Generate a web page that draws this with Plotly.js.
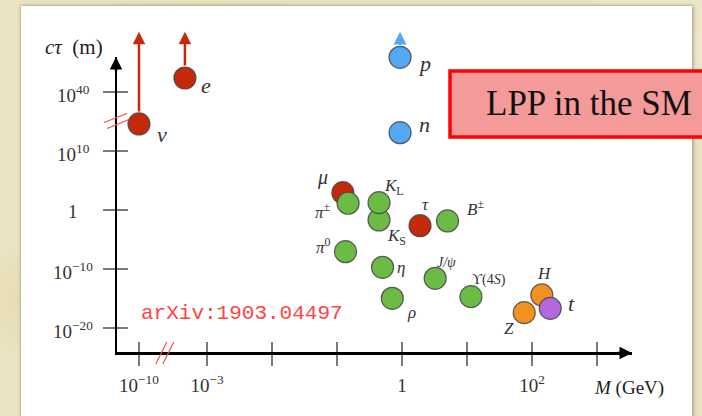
<!DOCTYPE html>
<html>
<head>
<meta charset="utf-8">
<script src="https://cdn.plot.ly/plotly-3.0.1.min.js"></script>
<style>
  html, body { margin: 0; padding: 0; width: 702px; height: 416px; overflow: hidden; }
  body {
    background:
      radial-gradient(ellipse 120px 90px at 40px 300px, rgba(225,214,160,0.55), rgba(225,214,160,0) 70%),
      radial-gradient(ellipse 160px 120px at 650px 60px, rgba(248,242,222,0.6), rgba(248,242,222,0) 70%),
      radial-gradient(ellipse 200px 140px at 200px 20px, rgba(230,220,180,0.5), rgba(230,220,180,0) 70%),
      #ebe3c4;
  }
  #panel {
    position: absolute; left: 21px; top: 6px; width: 671px; height: 420px;
    background: #ffffff;
    box-shadow: 0 0 3px rgba(90,80,50,0.45), 2px 0 4px rgba(90,80,50,0.25);
  }
  #chart { position: absolute; left: 0; top: 0; width: 702px; height: 416px; }
</style>
</head>
<body>
<div id="panel"></div>
<div id="chart"></div>
<script>
// Standard Model particles: log10 of mass (GeV) and of decay length c*tau (m)
const particles = ['nu', 'e', 'p', 'n', 'mu', 'pi+-', 'KS', 'KL', 'tau', 'B+-', 'pi0', 'eta', 'J/psi', 'rho', 'Upsilon4S', 'Z', 'H', 't'];
const labels = ['<i>ν</i>', '<i>e</i>', '<i>p</i>', '<i>n</i>', '<i>μ</i>', '<i>π</i><sup>±</sup>', '<i>K</i><sub>S</sub>', '<i>K</i><sub>L</sub>',
                '<i>τ</i>', '<i>B</i><sup>±</sup>', '<i>π</i><sup>0</sup>', '<i>η</i>', '<i>J/ψ</i>', '<i>ρ</i>', 'ϒ(4<i>S</i>)', '<i>Z</i>', '<i>H</i>', '<i>t</i>'];
const massLog = [-10, -3.34, -0.03, -0.03, -0.91, -0.83, -0.354, -0.354, 0.277, 0.70, -0.87, -0.30, 0.51, -0.15, 1.06, 1.88, 2.15, 2.28];
const ctauLog = [14.58, 51.85, 69.4, 13.1, 2.93, 1.14, -1.69, 1.24, -2.66, -1.86, -7.07, -9.71, -11.58, -14.97, -14.69, -17.4, -14.4, -16.67];
const kind = ['lepton', 'lepton', 'baryon', 'baryon', 'lepton', 'meson', 'meson', 'meson', 'lepton', 'meson', 'meson', 'meson', 'meson', 'meson', 'meson', 'boson', 'boson', 'top'];
// only a lower bound on the lifetime is known
const lowerBound = ['nu', 'e', 'p'];

// axis ticks (log10 values) and their labels
const xTickLog = [-10, -3, -2, -1, 0, 1, 2, 3];
const xTickText = ['10<sup>−10</sup>', '10<sup>−3</sup>', '', '', '1', '', '10<sup>2</sup>', ''];
const yTickLog = [-20, -10, 0, 10, 40];
const yTickText = ['10<sup>−20</sup>', '10<sup>−10</sup>', '1', '10<sup>10</sup>', '10<sup>40</sup>'];

// ---- styling ----
const colors = { lepton: '#c42a0a', baryon: '#52a9f4', meson: '#6cbb45', boson: '#f2911e', top: '#b269e0' };
const SERIF = 'Liberation Serif, Times New Roman, serif';
const labelStyle = {
  nu: [23, -11, 22], e: [21, -7, 22], p: [24, -6, 22], n: [24, 8, 22],
  mu: [-20, 15, 20], 'pi+-': [-25, -8, 17], KS: [17, -17, 17], KL: [15, 16, 17],
  tau: [5, 21, 17], 'B+-': [28, 13, 17], pi0: [-22, 6, 17], eta: [18, 0, 17],
  'J/psi': [11, 16, 14], rho: [19, -14, 17], Upsilon4S: [18, 17, 14],
  Z: [-15, -16, 17], H: [3, 21, 17], t: [21, 5, 22]
};

// broken axes: compressed beyond the break marks
const X_BREAK = -3.65, X_K = 0.0625;
const Y_BREAK = 15, Y_K = 0.2;
const xPos = l => (l >= X_BREAK ? l : X_BREAK + (l - X_BREAK) * X_K);
const yPos = l => (l <= Y_BREAK ? l : Y_BREAK + (l - Y_BREAK) * Y_K);

// plot area in pixels
const L = 117, R = 632, T = 57, B = 352;
const W = R - L, H = B - T;
const px = x => (x - L) / W;
const py = y => (B - y) / H;
const XR = [-4.385, 3.538];
const YR = [-24.07, 25.93];
const ARROW_TIP = 30.2;

const xs = massLog.map(xPos);
const ys = ctauLog.map(yPos);

const traces = [
  {
    type: 'scatter', mode: 'markers', x: xs, y: ys, cliponaxis: false, hoverinfo: 'skip',
    marker: { size: 22, color: kind.map(k => colors[k]), line: { color: 'rgba(70,70,70,0.85)', width: 1.2 }, opacity: 1 }
  },
  { type: 'scatter', x: [], y: [], xaxis: 'x2', yaxis: 'y2', showlegend: false }
];

const tickFont = { family: SERIF, size: 19, color: '#333' };
const annotations = [];

// particle labels
particles.forEach((p, i) => {
  const s = labelStyle[p];
  annotations.push({
    x: xs[i], y: ys[i], xref: 'x', yref: 'y', text: labels[i], showarrow: false,
    xanchor: 'center', yanchor: 'middle',
    xshift: s[0], yshift: s[1], font: { family: SERIF, size: s[2], color: '#333' }
  });
});

// lower-bound arrows
particles.forEach((p, i) => {
  if (!lowerBound.includes(p)) return;
  const blue = kind[i] === 'baryon';
  annotations.push({
    x: xs[i], y: ARROW_TIP, xref: 'x', yref: 'y', ax: xs[i], ay: ys[i], axref: 'x', ayref: 'y',
    text: '', showarrow: true, arrowhead: 2, startstandoff: 11,
    arrowsize: blue ? 0.8 : 1.0, arrowwidth: blue ? 3.2 : 2.5, arrowcolor: colors[kind[i]]
  });
});

// y tick labels, centred in the margin
yTickLog.forEach((v, i) => {
  annotations.push({
    x: px(73), y: yPos(v), xref: 'paper', yref: 'y', text: yTickText[i], showarrow: false,
    xanchor: 'center', yanchor: 'middle', yshift: -2, font: tickFont
  });
});

// axis arrowheads
annotations.push({ x: 1, y: 0, xref: 'paper', yref: 'paper', ax: -16, ay: 0, text: '', showarrow: true,
  arrowhead: 2, arrowsize: 1, arrowwidth: 2.5, arrowcolor: '#000', yshift: -1 });
annotations.push({ x: 0, y: 1, xref: 'paper', yref: 'paper', ax: 0, ay: 16, text: '', showarrow: true,
  arrowhead: 2, arrowsize: 1, arrowwidth: 2.5, arrowcolor: '#000', xshift: -1 });

const centred = { xref: 'paper', yref: 'paper', showarrow: false, xanchor: 'center', yanchor: 'middle' };

// axis titles
annotations.push(Object.assign({}, centred, { x: px(74), y: py(47),
  text: '<i>cτ</i>\u00a0\u00a0(m)', font: { family: SERIF, size: 21, color: '#222' } }));
annotations.push(Object.assign({}, centred, { x: px(629), y: py(388),
  text: '<i>M</i> (GeV)', font: { family: SERIF, size: 19, color: '#222' } }));

// reference tag
annotations.push(Object.assign({}, centred, { x: px(242), y: py(313),
  text: 'arXiv:1903.04497', font: { family: 'Liberation Mono, Courier New, monospace', size: 21, color: '#ff4444' } }));

// boxed caption
annotations.push(Object.assign({}, centred, { x: px(589), y: py(103),
  text: 'LPP in the SM', font: { family: SERIF, size: 35, color: '#111' } }));

const breakLine = { color: '#ff4a4a', width: 1.2 };
const shapes = [
  // caption box
  { type: 'rect', xref: 'paper', yref: 'paper', x0: px(450), x1: px(720), y0: py(137), y1: py(71),
    line: { color: '#ff0000', width: 3.5 }, fillcolor: '#f59a9a', layer: 'below' },
  // break marks on the y axis
  { type: 'line', xref: 'paper', yref: 'y', xsizemode: 'pixel', ysizemode: 'pixel', xanchor: 0, yanchor: yPos(Y_BREAK),
    x0: -13, x1: 10, y0: -1, y1: 8, line: breakLine },
  { type: 'line', xref: 'paper', yref: 'y', xsizemode: 'pixel', ysizemode: 'pixel', xanchor: 0, yanchor: yPos(Y_BREAK),
    x0: -10, x1: 12, y0: -7, y1: 2, line: breakLine },
  // break marks on the x axis
  { type: 'line', xref: 'x', yref: 'paper', xsizemode: 'pixel', ysizemode: 'pixel', xanchor: X_BREAK, yanchor: 0,
    x0: -9, x1: 2, y0: -12, y1: 10, line: breakLine },
  { type: 'line', xref: 'x', yref: 'paper', xsizemode: 'pixel', ysizemode: 'pixel', xanchor: X_BREAK, yanchor: 0,
    x0: -2, x1: 9, y0: -12, y1: 10, line: breakLine }
];

const baseAxis = { showgrid: false, zeroline: false, fixedrange: true };
const layout = {
  width: 702, height: 416,
  margin: { l: L, r: 702 - R, t: T, b: 416 - B, pad: 0 },
  paper_bgcolor: 'rgba(0,0,0,0)', plot_bgcolor: 'rgba(0,0,0,0)',
  showlegend: false,
  xaxis: Object.assign({}, baseAxis, {
    range: XR, showline: true, linecolor: '#000', linewidth: 2.5,
    ticks: 'outside', ticklen: 11, tickwidth: 1.3, tickcolor: '#7a7a7a',
    tickmode: 'array', tickvals: xTickLog.map(xPos), ticktext: xTickText, tickfont: tickFont, ticklabelstandoff: 4
  }),
  yaxis: Object.assign({}, baseAxis, {
    range: YR, showline: true, linecolor: '#000', linewidth: 2.5,
    ticks: 'outside', ticklen: 12, tickwidth: 1.3, tickcolor: '#7a7a7a',
    tickmode: 'array', tickvals: yTickLog.map(yPos), showticklabels: false
  }),
  xaxis2: Object.assign({}, baseAxis, {
    range: XR, overlaying: 'x', anchor: 'y2', side: 'bottom', showline: false,
    ticks: 'inside', ticklen: 10, tickwidth: 1.3, tickcolor: '#7a7a7a',
    tickmode: 'array', tickvals: xTickLog.map(xPos), showticklabels: false
  }),
  yaxis2: Object.assign({}, baseAxis, {
    range: YR, overlaying: 'y', anchor: 'x2', side: 'left', showline: false,
    ticks: 'inside', ticklen: 11, tickwidth: 1.3, tickcolor: '#7a7a7a',
    tickmode: 'array', tickvals: yTickLog.map(yPos), showticklabels: false
  }),
  annotations: annotations,
  shapes: shapes
};

Plotly.newPlot('chart', traces, layout, { displayModeBar: false, staticPlot: true });
</script>
</body>
</html>
